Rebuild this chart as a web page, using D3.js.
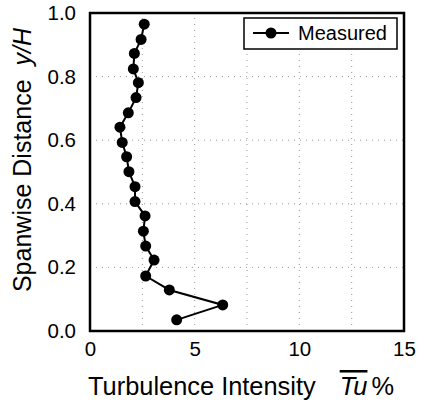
<!DOCTYPE html>
<html>
<head>
<meta charset="utf-8">
<script src="https://cdn.jsdelivr.net/npm/d3@7"></script>
<style>
  body { margin: 0; background: #fff; }
  svg { font-family: "Liberation Sans", Arial, sans-serif; }
</style>
</head>
<body>
<div id="chart"></div>
<script>
// measured turbulence intensity (%) against spanwise distance y/H
const tuValues = [4.14, 6.34, 3.79, 2.66, 3.06, 2.66, 2.55, 2.63, 2.15, 2.15, 1.86,
                  1.75, 1.54, 1.43, 1.83, 2.20, 2.31, 2.07, 2.12, 2.44, 2.59];
const yhValues = [0.035, 0.082, 0.129, 0.173, 0.223, 0.267, 0.314, 0.362, 0.407, 0.454, 0.501,
                  0.548, 0.593, 0.641, 0.686, 0.734, 0.781, 0.824, 0.873, 0.917, 0.965];
const xTicks = [0, 5, 10, 15];
const yTicks = [0, 0.2, 0.4, 0.6, 0.8, 1.0];
const xGrid = [2.5, 5, 7.5, 10, 12.5];
const yGrid = [0.2, 0.4, 0.6, 0.8];
const seriesName = 'Measured';

const width = 426, height = 406;
const margin = {left: 90, right: 22, top: 13, bottom: 75};

const svg = d3.select('#chart').append('svg')
  .attr('width', width)
  .attr('height', height);

const x = d3.scaleLinear().domain([0, 15]).range([margin.left, width - margin.right]);
const y = d3.scaleLinear().domain([0, 1]).range([height - margin.bottom, margin.top]);

// dotted grid
const grid = svg.append('g').attr('stroke', '#999').attr('stroke-width', 1)
  .attr('stroke-dasharray', '1,5');
grid.selectAll('.gx').data(xGrid).enter().append('line')
  .attr('x1', d => x(d)).attr('x2', d => x(d))
  .attr('y1', y(0)).attr('y2', y(1));
grid.selectAll('.gy').data(yGrid).enter().append('line')
  .attr('x1', x(0)).attr('x2', x(15))
  .attr('y1', d => y(d)).attr('y2', d => y(d));

// axes, labels only
const axisX = d3.axisBottom(x).tickValues(xTicks).tickSize(0).tickPadding(10)
  .tickFormat(d3.format('d'));
const gx = svg.append('g')
  .attr('transform', `translate(0, ${y(0)})`)
  .call(axisX);
gx.select('.domain').remove();
gx.selectAll('text').attr('font-size', 20.5).attr('fill', '#000')
  .style('font-family', '"Liberation Sans", Arial, sans-serif');

const axisY = d3.axisLeft(y).tickValues(yTicks).tickSize(0).tickPadding(14)
  .tickFormat(d3.format('.1f'));
const gy = svg.append('g')
  .attr('transform', `translate(${x(0)}, 0)`)
  .call(axisY);
gy.select('.domain').remove();
gy.selectAll('text').attr('font-size', 20.5).attr('fill', '#000')
  .style('font-family', '"Liberation Sans", Arial, sans-serif');

// frame
svg.append('rect')
  .attr('x', x(0)).attr('y', y(1))
  .attr('width', x(15) - x(0)).attr('height', y(0) - y(1))
  .attr('fill', 'none').attr('stroke', '#000').attr('stroke-width', 2.5);

// series
const points = tuValues.map((v, i) => [v, yhValues[i]]);
const line = d3.line().x(d => x(d[0])).y(d => y(d[1]));
svg.append('path')
  .attr('d', line(points))
  .attr('fill', 'none').attr('stroke', '#000').attr('stroke-width', 2);
svg.selectAll('.dot').data(points).enter().append('circle')
  .attr('cx', d => x(d[0])).attr('cy', d => y(d[1]))
  .attr('r', 5.5).attr('fill', '#000');

// legend
const legend = svg.append('g').attr('transform', 'translate(244, 18)');
legend.append('rect').attr('width', 153).attr('height', 31)
  .attr('fill', '#fff').attr('stroke', '#000').attr('stroke-width', 1.5);
legend.append('line').attr('x1', 9).attr('x2', 45).attr('y1', 15).attr('y2', 15)
  .attr('stroke', '#000').attr('stroke-width', 2);
legend.append('circle').attr('cx', 27).attr('cy', 15).attr('r', 5.5).attr('fill', '#000');
legend.append('text').attr('x', 54).attr('y', 22).attr('font-size', 20).text(seriesName);

// axis titles
const xt = svg.append('text').attr('x', 88).attr('y', 395).attr('font-size', 25.4);
xt.append('tspan').text('Turbulence Intensity');
xt.append('tspan').attr('dx', 24).attr('font-style', 'italic')
  .attr('text-decoration', 'overline').text('Tu');
xt.append('tspan').attr('dx', 4).text('%');

const yt = svg.append('text')
  .attr('transform', 'translate(31, 160) rotate(-90)')
  .attr('text-anchor', 'middle').attr('font-size', 25);
yt.append('tspan').text('Spanwise Distance');
yt.append('tspan').attr('dx', 14).attr('font-style', 'italic').text('y/H');
</script>
</body>
</html>
